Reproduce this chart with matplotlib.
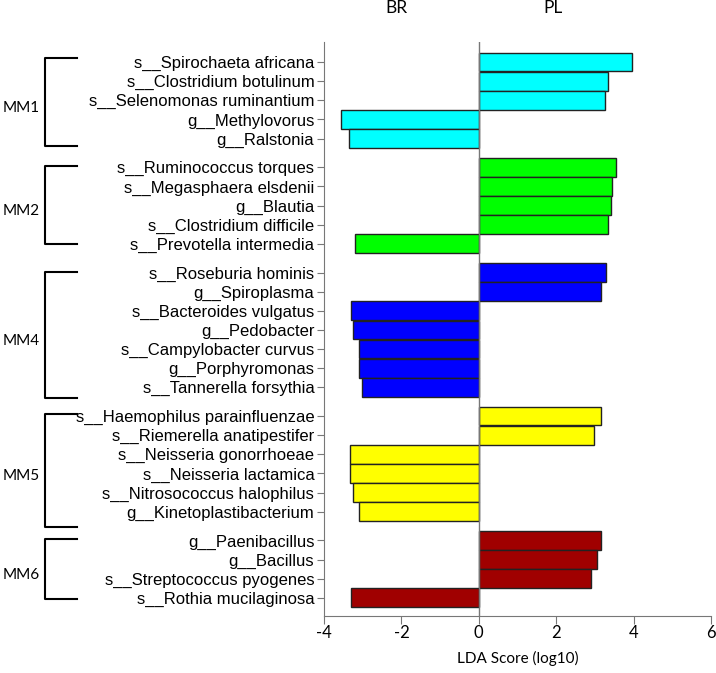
import matplotlib
matplotlib.use("Agg")
import matplotlib.pyplot as plt
from matplotlib.transforms import blended_transform_factory

group_names = ["MM1", "MM2", "MM4", "MM5", "MM6"]
group_colors = ["#00FFFF", "#00FF00", "#0000FF", "#FFFF00", "#A00000"]
group_sizes = [5, 5, 7, 6, 4]

taxa = [
    "s__Spirochaeta africana", "s__Clostridium botulinum", "s__Selenomonas ruminantium",
    "g__Methylovorus", "g__Ralstonia",
    "s__Ruminococcus torques", "s__Megasphaera elsdenii", "g__Blautia",
    "s__Clostridium difficile", "s__Prevotella intermedia",
    "s__Roseburia hominis", "g__Spiroplasma", "s__Bacteroides vulgatus", "g__Pedobacter",
    "s__Campylobacter curvus", "g__Porphyromonas", "s__Tannerella forsythia",
    "s__Haemophilus parainfluenzae", "s__Riemerella anatipestifer", "s__Neisseria gonorrhoeae",
    "s__Neisseria lactamica", "s__Nitrosococcus halophilus", "g__Kinetoplastibacterium",
    "g__Paenibacillus", "g__Bacillus", "s__Streptococcus pyogenes", "s__Rothia mucilaginosa",
]
lda_scores = [
    3.96, 3.33, 3.27, -3.57, -3.36,
    3.55, 3.43, 3.42, 3.33, -3.21,
    3.28, 3.15, -3.29, -3.25, -3.09, -3.09, -3.03,
    3.16, 2.98, -3.33, -3.33, -3.24, -3.10,
    3.17, 3.06, 2.91, -3.29,
]

# hand-drawn brackets: offsets from first / last row of each group
bracket_offsets = [(-0.19, 0.39), (-0.07, 0.0), (-0.04, 0.57), (-0.11, 0.81), (-0.06, 0.07)]

fig = plt.figure(figsize=(7.16, 6.73), dpi=100)
ax = fig.add_axes([0.4525, 0.0847, 0.5405, 0.8529])

ypos, colors, spans = [], [], []
row = 0
for g, size in enumerate(group_sizes):
    start = row + 0.5 * g
    for k in range(size):
        ypos.append(start + k)
        colors.append(group_colors[g])
    spans.append((start, start + size - 1))
    row += size

ax.barh(ypos, lda_scores, height=0.98, color=colors, edgecolor="#222222", linewidth=1, zorder=2)
ax.axvline(0, color="#777777", linewidth=1, zorder=3)

ax.set_xlim(-4, 6)
ax.set_ylim(ypos[-1] + 0.95, -1.05)
ax.set_xticks([-4, -2, 0, 2, 4, 6])
ax.set_xticklabels(["-4", "-2", "0", "2", "4", "6"], family="Lato", fontsize=12)
ax.set_yticks(ypos)
ax.set_yticklabels(taxa, family="Liberation Sans", fontsize=12.0)
ax.tick_params(axis="y", length=5, color="#777777", pad=2)
ax.tick_params(axis="x", length=6, color="#777777", pad=0.5)
ax.set_xlabel("LDA Score (log10)", family="Lato", fontsize=11, labelpad=7)

for side in ["top", "right"]:
    ax.spines[side].set_visible(False)
for side in ["left", "bottom"]:
    ax.spines[side].set_color("#777777")

ax.text(-2.13, -2.85, "BR", ha="center", va="center", family="Lato", fontsize=12.5, clip_on=False)
ax.text(1.92, -2.85, "PL", ha="center", va="center", family="Lato", fontsize=12.5, clip_on=False)

tr = blended_transform_factory(fig.transFigure, ax.transData)
x_vert, x_arm = 45 / 716, 77 / 716
for (a, b), (o1, o2), name in zip(spans, bracket_offsets, group_names):
    top, bot = a + o1, b + o2
    ax.plot([x_arm, x_vert, x_vert, x_arm], [top, top, bot, bot], color="black",
            linewidth=1.5, transform=tr, clip_on=False)
    ax.text(3 / 716, (top + bot) / 2 + 0.3, name, transform=tr, ha="left", va="center",
            family="Lato", fontsize=11)

fig.savefig("out.png", dpi=100)
